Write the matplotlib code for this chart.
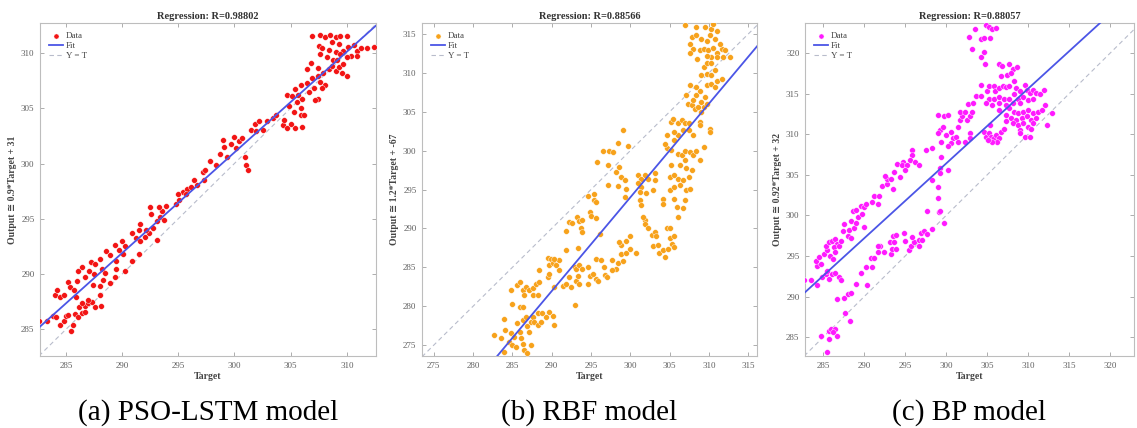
import numpy as np
import matplotlib
matplotlib.use("Agg")
import matplotlib.pyplot as plt

plt.rcParams['font.family'] = ['Liberation Serif', 'DejaVu Sans']

# ---- (a) PSO-LSTM ----
pso_target = [282.6, 283.3, 283.9, 284.1, 284.5, 284.8, 285.0, 285.5, 285.6, 285.2,
              285.8, 286.1, 286.4, 286.2, 286.7, 287.0, 287.3, 287.6, 288.1, 286.7,
              287.0, 286.4, 285.9, 284.0, 284.2, 284.5, 284.8, 285.2, 285.4, 285.7,
              286.0, 286.1, 286.4, 286.7, 287.1, 287.2, 287.6, 287.5, 288.0, 288.2,
              288.5, 288.6, 288.9, 289.5, 288.0, 287.4, 288.0, 288.3, 288.9, 289.4,
              289.5, 289.4, 289.7, 290.0, 290.3, 290.1, 290.3, 290.9, 291.2, 291.5,
              291.6, 290.9, 291.5, 292.0, 291.6, 292.4, 292.1, 292.8, 293.1, 293.1,
              293.4, 293.6, 293.9, 292.6, 292.5, 293.3, 293.7, 294.8, 295.1, 295.4,
              295.8, 296.1, 296.4, 296.7, 297.2, 295.0, 295.7, 297.3,
              297.4, 297.8, 298.4, 298.7, 299.1, 299.3, 299.0, 299.7, 300.0, 300.1,
              300.4, 300.7, 300.9, 301.0, 301.2, 301.5, 301.8, 302.2, 301.9, 302.5,
              302.9, 303.4, 303.7, 304.3, 304.7, 305.4, 306.0, 304.4, 305.0, 305.3,
              304.9, 305.9, 305.9, 306.2, 304.7, 305.1, 305.4, 305.7, 305.6, 306.0,
              305.9, 306.5, 306.6, 307.1, 307.4, 306.9, 307.4, 307.6, 308.1, 307.8,
              306.5, 306.8, 307.4, 307.9, 308.4, 308.7, 309.0, 309.3, 309.6, 310.0,
              309.7, 308.8, 308.2, 307.6, 307.5, 306.9, 307.6, 308.1, 308.5, 309.0,
              309.4, 310.0, 308.7, 309.3, 308.4, 309.0, 309.7, 310.1, 310.6, 310.9,
              311.3, 311.8, 312.4, 310.4, 310.9, 310.0, 309.4, 309.1, 307.8, 307.2]
pso_output = [285.8, 285.8, 286.2, 286.1, 285.4, 285.8, 286.2, 284.9, 285.4, 286.3,
              286.4, 286.1, 286.5, 287.0, 287.1, 287.4, 287.5, 287.0, 287.1, 286.6,
              287.7, 287.4, 287.9, 288.1, 288.6, 287.9, 288.1, 289.3, 288.8, 288.6,
              289.4, 290.3, 290.6, 289.7, 290.3, 291.1, 290.9, 290.0, 291.4, 290.5,
              290.1, 292.1, 291.7, 291.2, 288.1, 289.0, 288.9, 289.5, 289.2, 289.7,
              290.5, 292.6, 292.2, 293.0, 292.5, 291.8, 290.3, 293.7, 293.3, 294.0,
              294.5, 291.2, 291.8, 293.4, 293.0, 293.7, 294.0, 294.2, 294.8, 293.1,
              295.2, 295.7, 296.2, 295.4, 296.1, 296.1, 294.9, 296.3, 296.7, 297.4,
              297.7, 297.9, 298.5, 298.1, 299.2, 297.2, 297.2, 298.5,
              299.4, 300.2, 299.9, 300.9, 301.5, 300.6, 302.1, 301.8, 302.4, 301.4,
              302.0, 302.3, 300.6, 299.9, 299.4, 303.0, 303.6, 303.8, 302.9, 303.0,
              303.8, 304.1, 304.4, 303.5, 303.2, 303.2, 303.3, 303.9, 303.6, 304.7,
              305.2, 305.0, 304.4, 304.4, 306.2, 306.1, 306.7, 306.2, 305.6, 305.8,
              307.1, 307.3, 306.5, 306.8, 305.8, 307.7, 307.9, 307.4, 307.1, 306.8,
              308.5, 309.1, 308.6, 308.2, 308.5, 308.8, 308.4, 308.7, 308.2, 307.9,
              309.0, 309.4, 309.6, 309.9, 310.6, 311.5, 311.6, 311.4, 311.6, 311.4,
              311.5, 311.5, 311.0, 310.8, 310.3, 310.1, 310.2, 310.5, 310.7, 310.2,
              310.4, 310.4, 310.5, 309.7, 309.7, 309.6, 309.9, 309.4, 310.4, 305.7]

# ---- (b) RBF ----
rbf_target = [282.7, 283.5, 284.1, 283.9, 284.6, 284.8, 285.0, 285.2, 285.4, 285.6,
              285.9, 286.1, 286.3, 286.5, 286.3, 286.7, 286.9, 287.1, 287.3, 287.6,
              287.8, 288.2, 288.2, 288.6, 288.8, 287.3, 286.9, 285.9, 286.3, 284.9,
              284.8, 285.6, 285.9, 286.3, 286.7, 287.1, 287.6, 286.5, 287.6, 288.2,
              288.0, 288.4, 288.4, 289.5, 289.7, 289.5, 289.9, 289.7, 290.1, 290.5,
              290.9, 290.3, 290.9, 289.7, 290.1, 290.3, 289.3, 290.3, 291.4, 291.8,
              292.2, 292.9, 292.4, 293.1, 293.3, 293.5, 292.9, 293.1, 293.5, 293.9,
              294.6, 294.8, 294.6, 295.6, 291.8, 293.3, 291.8, 292.2, 292.6, 293.2,
              293.5, 293.9, 293.7, 293.8, 294.8, 295.0, 295.6, 296.1, 294.6, 295.4,
              295.4, 295.6, 295.8, 297.1, 298.2, 298.6, 298.4, 295.6, 296.3, 297.6,
              298.4, 298.2, 297.6, 296.8, 297.0, 295.9, 296.6, 295.2, 283.9,
              298.8, 299.5, 299.9, 300.7, 299.1, 298.8, 299.5, 299.9, 298.6, 301.8,
              301.8, 302.2, 296.5, 297.3, 297.8, 298.4, 299.0, 299.7, 297.1, 298.8,
              299.3, 299.5, 299.3, 301.0, 301.4, 301.8, 302.2, 303.1, 301.0, 301.4,
              301.2, 302.0, 302.9, 303.1, 301.2, 301.4, 301.6, 302.7, 303.1, 303.3,
              302.9, 303.5, 303.7, 304.1, 304.4, 304.8, 305.3, 305.6, 305.1, 305.5,
              304.6, 305.1, 304.1, 304.1, 305.1, 305.5, 305.6, 305.9, 306.1, 306.7,
              306.9, 307.1, 307.6, 305.1, 305.6, 306.1, 306.3, 306.7, 307.4, 307.8,
              307.1, 306.3, 305.2, 304.6, 305.2, 306.1, 306.5, 306.9, 307.6, 308.0,
              308.4, 308.8, 309.3, 306.9, 305.6, 306.1, 305.6, 305.2, 305.4, 306.1,
              306.5, 306.9, 306.7, 307.4, 307.4, 308.0, 308.8, 308.8, 310.1, 310.1,
              304.6, 304.4,
              307.1, 307.3, 307.8, 308.0, 308.4, 308.2, 308.6, 309.0, 309.3, 309.7,
              309.5, 308.8, 309.0, 307.6, 308.4, 309.7, 310.3, 311.0, 311.6, 310.8,
              309.0, 309.7, 310.3, 310.7, 309.3, 309.7, 310.3, 308.5, 308.8, 309.3,
              309.9, 310.5, 311.0, 311.6, 312.0, 312.7, 311.8, 311.0, 310.3, 309.7,
              308.0, 307.6, 307.8, 308.4, 309.0, 309.7, 310.1, 310.7, 311.0, 310.3,
              309.5, 308.4, 306.9, 310.5, 307.6, 311.4]
rbf_output = [276.3, 275.9, 277.0, 274.1, 275.4, 276.5, 275.0, 276.1, 274.8, 277.8,
              276.7, 275.9, 275.2, 274.4, 278.2, 278.6, 277.4, 276.7, 278.0, 278.6,
              278.0, 279.1, 277.6, 278.0, 279.1, 275.0, 274.0, 279.9, 279.9, 280.3,
              282.1, 282.7, 283.1, 282.1, 282.5, 282.1, 282.4, 281.4, 281.4, 281.4,
              282.9, 283.1, 284.6, 283.8, 284.2, 286.2, 286.1, 285.3, 285.5, 285.3,
              285.9, 286.1, 284.6, 279.3, 278.8, 277.6, 278.6, 282.5, 282.6, 282.9,
              283.8, 280.1, 282.5, 283.3, 283.9, 282.9, 285.0, 284.8, 285.3, 284.8,
              285.0, 283.9, 282.9, 283.5, 287.2, 287.5, 289.7, 290.8, 290.7, 291.5,
              291.0, 291.1, 290.1, 289.5, 292.1, 291.6, 291.4, 289.3, 294.2, 294.4,
              293.7, 293.4, 298.5, 298.1, 297.2, 297.9, 295.5, 286.1, 285.9, 285.9,
              285.5, 284.8, 284.6, 284.0, 283.8, 283.3, 285.0, 284.2, 278.3,
              286.7, 286.9, 287.3, 286.9, 285.8, 287.9, 288.4, 289.0, 288.2, 291.1,
              290.6, 290.0, 300.0, 300.0, 299.8, 301.0, 302.7, 300.6, 295.6, 296.6,
              296.2, 295.1, 294.1, 296.8, 296.4, 296.8, 296.4, 297.1, 295.8, 295.3,
              294.7, 294.5, 295.0, 296.2, 293.6, 293.0, 291.5, 289.1, 289.6, 289.0,
              287.8, 287.9, 286.9, 287.2, 286.3, 287.4, 288.0, 287.6, 288.8, 289.0,
              290.0, 290.0, 293.8, 293.2, 294.9, 295.3, 293.8, 292.8, 291.5, 292.6,
              293.6, 294.9, 295.1, 296.6, 296.8, 296.4, 295.6, 296.2, 296.6, 297.5,
              297.7, 298.1, 298.1, 300.3, 300.1, 299.6, 299.4, 300.0, 299.8, 299.4,
              300.0, 298.8, 300.4, 298.8, 301.3, 302.0, 302.4, 303.7, 304.1, 303.5,
              303.9, 303.5, 302.6, 302.6, 303.5, 302.0, 303.7, 303.3, 302.8, 302.4,
              302.0, 300.9,
              307.1, 306.0, 305.8, 306.5, 307.1, 305.4, 305.6, 306.2, 305.6, 306.0,
              306.9, 307.7, 305.0, 308.4, 308.2, 308.4, 308.6, 309.0, 309.2, 308.2,
              309.7, 309.9, 309.7, 310.3, 310.7, 311.2, 311.2, 311.8, 312.9, 313.1,
              312.9, 313.2, 312.6, 313.1, 312.9, 312.0, 312.0, 312.0, 312.0, 312.2,
              313.1, 313.7, 314.6, 314.8, 314.4, 314.1, 314.8, 314.4, 315.4, 315.6,
              315.9, 315.9, 316.1, 316.3, 312.6, 313.7]

# ---- (c) BP ----
bp_target = [282.7, 283.5, 284.3, 284.9, 285.3, 285.7, 286.1, 286.5, 286.9, 287.2,
             285.5, 284.3, 284.7, 284.1, 284.5, 285.1, 285.5, 285.9, 285.3, 285.7,
             286.1, 286.5, 286.7, 286.3, 286.9, 287.2, 286.2, 286.5, 287.4, 287.6,
             288.0, 288.4, 288.2, 288.8, 288.4, 289.0, 289.2, 288.6, 289.0, 289.6,
             290.0, 290.2, 289.8, 290.0, 291.0, 291.2, 291.8, 291.7, 292.2, 292.8,
             292.8, 292.6, 293.3, 293.5, 293.6, 294.0, 297.7, 299.1, 299.3, 299.8,
             286.7, 287.6, 288.0, 288.4, 289.0, 289.6, 290.2, 290.4, 291.0, 290.8,
             291.2, 291.7, 292.4, 292.0, 291.7, 293.3, 293.2, 293.4, 293.6, 293.9,
             293.5, 293.9, 294.9, 295.0, 295.5, 295.7, 296.1, 295.9, 296.7, 296.7,
             296.9, 297.1, 297.3, 297.7, 298.3, 285.7, 284.7, 286.0, 286.4, 286.2,
             286.7, 285.7, 285.5, 287.7, 288.3,
             302.8, 303.5, 304.3, 304.6, 304.9, 305.2, 305.4, 305.6, 306.1, 303.1,
             304.2, 304.6, 304.8, 306.4, 306.8, 307.7, 308.1, 308.6, 306.7, 307.4,
             307.9, 304.2, 303.6, 304.2, 305.0, 305.2, 305.8, 306.0, 306.5, 306.9,
             307.3, 307.7, 308.25, 308.5, 309.0, 309.6, 309.8, 310.2, 310.6, 311.0,
             311.5, 311.9, 305.2, 305.8, 306.5, 307.1, 307.7, 308.3, 308.75, 309.4,
             310.0, 310.6, 306.5, 307.3, 308.1, 309.0, 305.6, 304.9, 302.7, 307.7,
             308.3, 308.75, 309.4, 310.0, 310.6, 311.25, 312.1, 307.3, 307.9, 308.5,
             309.2, 309.8, 310.4, 311.0, 308.1, 308.75, 309.4, 310.0, 310.6, 310.4,
             309.0, 309.6, 310.2, 309.0, 312.9, 312.3, 307.3, 306.5, 311.7, 304.6,
             304.9, 305.2, 305.5, 305.8, 306.1, 306.5, 306.2, 305.6, 305.1, 306.7,
             307.1, 305.3, 299.0, 299.8, 300.2, 299.2, 299.0, 299.6, 300.0, 300.6,
             300.8, 301.25, 301.5, 301.7, 301.9, 301.7, 302.3, 302.5, 302.9, 303.2,
             303.3, 302.9, 302.3, 301.5, 302.9, 300.6, 300.2, 299.4, 298.3, 297.5,
             295.8, 295.8, 295.6, 294.8, 294.6, 295.2, 296.25, 296.7, 294.4, 295.0,
             299.4, 299.2, 300.2, 298.3, 299.2, 299.0, 299.0]
bp_output = [292.1, 292.0, 291.4, 292.4, 292.8, 292.2, 292.8, 292.9, 292.4, 292.0,
             293.2, 293.8, 294.0, 294.4, 294.9, 295.2, 295.7, 295.0, 296.3, 296.7,
             296.9, 297.1, 296.5, 296.1, 296.3, 296.9, 294.6, 295.5, 298.1, 298.9,
             297.5, 297.2, 298.2, 298.5, 299.3, 299.1, 299.8, 300.5, 300.7, 301.2,
             301.0, 301.4, 300.2, 298.6, 301.6, 302.4, 302.4, 301.4, 303.6, 303.9,
             304.5, 304.9, 304.5, 303.3, 305.3, 306.3, 300.6, 300.4, 300.6, 299.1,
             289.7, 289.9, 290.3, 290.5, 291.6, 292.9, 293.6, 291.4, 293.6, 294.8,
             294.8, 295.5, 295.5, 296.3, 296.3, 295.2, 296.7, 295.9, 296.7, 295.9,
             297.5, 297.6, 297.9, 296.9, 295.7, 296.3, 296.7, 297.3, 296.3, 297.0,
             297.9, 297.0, 298.1, 297.7, 298.3, 285.8, 285.2, 286.0, 286.0, 285.6,
             285.2, 284.8, 283.2, 288.0, 287.0,
             322.0, 323.0, 321.7, 321.8, 323.5, 323.2, 321.8, 322.9, 323.1, 320.5,
             319.5, 320.1, 318.6, 318.7, 318.4, 318.6, 318.0, 318.3, 317.2, 317.3,
             317.5, 316.1, 314.7, 314.7, 315.3, 315.9, 315.9, 315.3, 315.7, 316.0,
             315.8, 315.9, 316.5, 315.7, 315.3, 316.1, 315.5, 315.1, 315.5, 315.1,
             314.9, 315.5, 314.4, 314.4, 314.6, 314.4, 314.3, 314.9, 314.4, 314.6,
             314.2, 314.4, 313.8, 313.6, 313.8, 313.8, 313.6, 313.8, 313.7, 313.2,
             312.8, 312.6, 312.8, 313.0, 312.6, 312.8, 313.6, 312.4, 312.0, 311.8,
             312.0, 312.2, 311.8, 312.0, 311.4, 311.2, 311.4, 310.9, 311.4, 310.7,
             310.5, 309.7, 309.7, 310.1, 312.6, 311.1, 311.6, 313.0, 313.0, 310.3,
             309.7, 310.1, 309.7, 309.5, 309.9, 309.5, 309.1, 309.1, 309.3, 310.3,
             310.6, 311.1, 312.4, 312.2, 312.4, 310.5, 310.1, 310.9, 309.9, 310.3,
             309.5, 309.7, 310.9, 311.8, 312.2, 312.8, 312.8, 311.8, 312.2, 312.8,
             313.8, 310.1, 309.1, 309.1, 309.5, 308.9, 308.5, 309.1, 308.3, 308.1,
             308.1, 307.4, 306.8, 306.6, 306.2, 306.2, 306.6, 306.2, 304.8, 305.6,
             307.2, 305.8, 305.6, 304.4, 305.2, 303.5, 302.1]

# fitted lines as drawn, and the labels printed on the chart
fit_slopes = [0.91, 1.205, 0.922]
fit_intercepts = [28.0, -67.5, 29.8]
r_values = ["0.98802", "0.88566", "0.88057"]
ylabels = ["Output \u2245 0.9*Target + 31", "Output \u2245 1.2*Target + -67",
           "Output \u2245 0.92*Target + 32"]
captions = ["(a) PSO-LSTM model", "(b) RBF model", "(c) BP model"]
x_limits = [(282.7, 312.6), (273.5, 316.1), (282.8, 322.9)]
y_limits = [(282.6, 312.7), (273.6, 316.4), (282.7, 323.7)]
tick_sets = [np.arange(285, 311, 5), np.arange(275, 316, 5), np.arange(285, 321, 5)]
colors = ["#f21414", "#f7a21b", "#ff1aff"]

FIT_COLOR = "#4b55e6"
GRID_GRAY = "#bdbdbd"
LABEL_FONTS = ['Liberation Serif', 'DejaVu Sans']


def draw_panel(ax, target, output, k):
    ax.scatter(target, output, s=17, c=colors[k], edgecolors="white",
               linewidths=0.3, label="Data", zorder=3)
    xl, yl = x_limits[k], y_limits[k]
    xs = np.array(xl)
    ax.plot(xs, fit_slopes[k] * xs + fit_intercepts[k], color=FIT_COLOR,
            lw=1.3, label="Fit", zorder=4)
    lo, hi = min(xl[0], yl[0]), max(xl[1], yl[1])
    ax.plot([lo, hi], [lo, hi], ls=(0, (4, 3)), color="#b8bccb", lw=0.8,
            label="Y = T", zorder=2)
    ax.set_xlim(xl)
    ax.set_ylim(yl)
    ax.set_xticks(tick_sets[k])
    ax.set_yticks(tick_sets[k])
    ax.tick_params(direction="in", length=3, width=0.6, colors="#a0a0a0",
                   labelcolor="#606060", labelsize=6.5, top=True, right=True,
                   pad=4)
    for sp in ax.spines.values():
        sp.set_color(GRID_GRAY)
        sp.set_linewidth(0.8)
    ax.set_title("Regression: R=" + r_values[k], fontsize=7.5,
                 fontweight="bold", color="#333333", pad=3)
    ax.set_xlabel("Target", fontsize=7, fontweight="bold", color="#444444",
                  labelpad=2)
    ax.set_ylabel(ylabels[k], fontsize=7, fontweight="bold", color="#444444",
                  labelpad=3, family=LABEL_FONTS)
    leg = ax.legend(loc="upper left", frameon=False, fontsize=6.5,
                    handlelength=1.6, handletextpad=0.3, labelspacing=0.15,
                    borderaxespad=0.6, markerscale=0.9)
    for t in leg.get_texts():
        t.set_color("#444444")


fig = plt.figure(figsize=(11.37, 4.28), dpi=100)
lefts = [40, 422, 805]
widths = [336, 335, 329]
datasets = [(pso_target, pso_output), (rbf_target, rbf_output), (bp_target, bp_output)]

for k in range(3):
    ax = fig.add_axes([lefts[k] / 1137, 72 / 428, widths[k] / 1137, 333 / 428])
    draw_panel(ax, datasets[k][0], datasets[k][1], k)
    cx = (lefts[k] + widths[k] / 2) / 1137
    fig.text(cx, 0.035, captions[k], ha="center", va="center", fontsize=21,
             family="Liberation Serif")

fig.savefig("out.png", dpi=100)
